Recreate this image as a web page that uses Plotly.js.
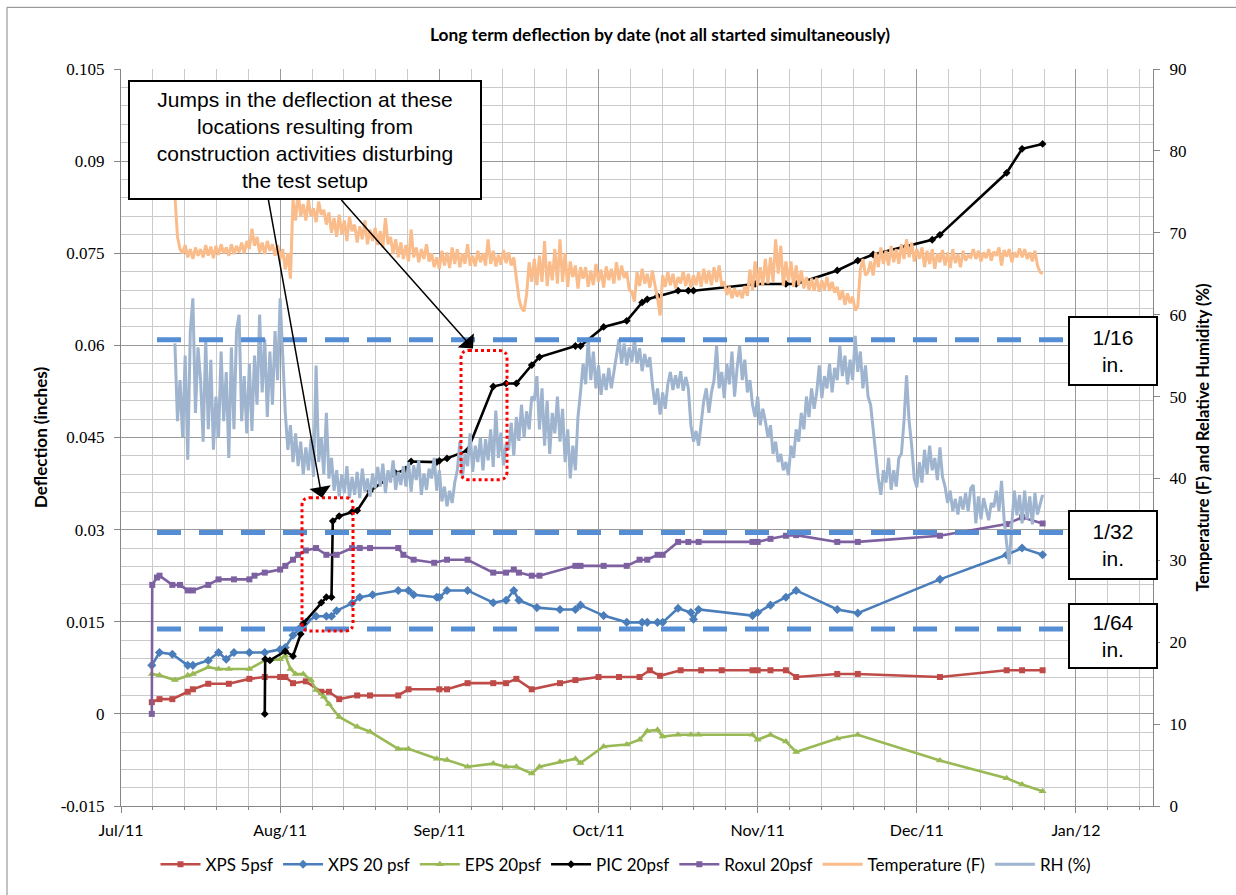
<!DOCTYPE html>
<html><head><meta charset="utf-8">
<script src="https://cdn.plot.ly/plotly-3.0.1.min.js"></script>
<style>html,body{margin:0;padding:0;background:#fff}#chart{width:1236px;height:895px}</style>
</head><body><div id="chart"></div>
<script>
// ---------------- data ----------------
const xps5Dates = ['2011-07-07','2011-07-08 12:00','2011-07-11','2011-07-14','2011-07-15','2011-07-18','2011-07-22','2011-07-26','2011-07-29','2011-08-01','2011-08-02','2011-08-03 12:00','2011-08-06','2011-08-09','2011-08-10 12:00','2011-08-12 12:00','2011-08-16','2011-08-18 12:00','2011-08-24','2011-08-26','2011-09-01','2011-09-02 12:00','2011-09-06 12:00','2011-09-11 12:00','2011-09-14','2011-09-16','2011-09-19','2011-09-24 12:00','2011-09-27 12:00','2011-10-02','2011-10-06','2011-10-10','2011-10-12','2011-10-14','2011-10-18','2011-10-22','2011-10-26','2011-11-01','2011-11-02','2011-11-04 12:00','2011-11-07 12:00','2011-11-09 12:00','2011-11-17 12:00','2011-11-21 12:00','2011-12-07 12:00','2011-12-20 12:00','2011-12-23 12:00','2011-12-27 12:00'];
const xps5Vals = [0.0019,0.0024,0.0024,0.0036,0.0040,0.0049,0.0049,0.0057,0.0060,0.0060,0.0060,0.0050,0.0053,0.0036,0.0036,0.0024,0.0030,0.0030,0.0030,0.0040,0.0040,0.0040,0.0050,0.0050,0.0050,0.0057,0.0040,0.0050,0.0055,0.0060,0.0060,0.0060,0.0071,0.0062,0.0071,0.0071,0.0071,0.0071,0.0071,0.0071,0.0071,0.0060,0.0065,0.0065,0.0060,0.0071,0.0071,0.0071];

const xps20Dates = ['2011-07-07','2011-07-08 12:00','2011-07-11','2011-07-14','2011-07-15','2011-07-18','2011-07-20','2011-07-21 12:00','2011-07-23','2011-07-26','2011-07-29','2011-08-01','2011-08-02','2011-08-03 12:00','2011-08-05','2011-08-06','2011-08-08','2011-08-10','2011-08-11','2011-08-12','2011-08-15','2011-08-16 12:00','2011-08-19','2011-08-24','2011-08-26','2011-08-27','2011-08-31 12:00','2011-09-01','2011-09-02 12:00','2011-09-06 12:00','2011-09-11 12:00','2011-09-14','2011-09-15 12:00','2011-09-16 12:00','2011-09-20','2011-09-24 12:00','2011-09-27 12:00','2011-09-28 12:00','2011-10-03','2011-10-07 12:00','2011-10-10 12:00','2011-10-11 12:00','2011-10-13 12:00','2011-10-14 12:00','2011-10-17 12:00','2011-10-20','2011-10-20 12:00','2011-10-21 12:00','2011-11-01','2011-11-02','2011-11-04 12:00','2011-11-07 12:00','2011-11-09 12:00','2011-11-17 12:00','2011-11-21 12:00','2011-12-07 12:00','2011-12-20 12:00','2011-12-23 12:00','2011-12-27 12:00'];
const xps20Vals = [0.0079,0.0100,0.0097,0.0079,0.0079,0.0087,0.0100,0.0089,0.0100,0.0100,0.0100,0.0105,0.0108,0.0128,0.0141,0.0149,0.0159,0.0159,0.0159,0.0168,0.0180,0.0190,0.0194,0.0201,0.0201,0.0194,0.0190,0.0190,0.0201,0.0201,0.0181,0.0185,0.0201,0.0185,0.0173,0.0170,0.0170,0.0177,0.0160,0.0149,0.0149,0.0149,0.0149,0.0149,0.0172,0.0165,0.0154,0.0170,0.0160,0.0165,0.0177,0.0190,0.0201,0.0170,0.0164,0.0219,0.0259,0.0270,0.0259];

const epsDates = ['2011-07-07','2011-07-08 12:00','2011-07-11 12:00','2011-07-14','2011-07-15','2011-07-18','2011-07-20','2011-07-22','2011-07-26','2011-07-29','2011-08-01','2011-08-02','2011-08-03','2011-08-04','2011-08-05 12:00','2011-08-07','2011-08-08','2011-08-09 12:00','2011-08-10 12:00','2011-08-12 12:00','2011-08-16','2011-08-18 12:00','2011-08-24','2011-08-26','2011-08-31 12:00','2011-09-02 12:00','2011-09-06 12:00','2011-09-11 12:00','2011-09-14','2011-09-16','2011-09-19','2011-09-20 12:00','2011-09-24 12:00','2011-09-27 12:00','2011-09-28 12:00','2011-10-03','2011-10-07 12:00','2011-10-10','2011-10-11 12:00','2011-10-13 12:00','2011-10-14 12:00','2011-10-17 12:00','2011-10-20','2011-10-21 12:00','2011-11-01','2011-11-02','2011-11-04 12:00','2011-11-07 12:00','2011-11-09 12:00','2011-11-17 12:00','2011-11-21 12:00','2011-12-07 12:00','2011-12-20 12:00','2011-12-23 12:00','2011-12-27 12:00'];
const epsVals = [0.0065,0.0063,0.0055,0.0063,0.0065,0.0076,0.0073,0.0073,0.0073,0.0087,0.0089,0.0095,0.0073,0.0065,0.0065,0.0055,0.0039,0.0028,0.0016,-0.0005,-0.0021,-0.0029,-0.0057,-0.0057,-0.0073,-0.0075,-0.0086,-0.0081,-0.0086,-0.0086,-0.0097,-0.0086,-0.0078,-0.0073,-0.0080,-0.0053,-0.0050,-0.0042,-0.0028,-0.0026,-0.0037,-0.0034,-0.0034,-0.0034,-0.0034,-0.0042,-0.0034,-0.0045,-0.0062,-0.0040,-0.0034,-0.0076,-0.0105,-0.0115,-0.0126];

const picDates = ['2011-07-29','2011-07-29 02:00','2011-07-30','2011-08-02','2011-08-03 12:00','2011-08-05','2011-08-05 12:00','2011-08-09','2011-08-10','2011-08-11','2011-08-11 06:00','2011-08-12 12:00','2011-08-15','2011-08-16','2011-08-18 12:00','2011-08-23 12:00','2011-08-25 12:00','2011-08-26 12:00','2011-08-31 12:00','2011-09-01','2011-09-02 12:00','2011-09-06 12:00','2011-09-11 12:00','2011-09-14','2011-09-16','2011-09-19','2011-09-20 12:00','2011-09-27 12:00','2011-09-28 12:00','2011-10-03','2011-10-07 12:00','2011-10-10 12:00','2011-10-11 12:00','2011-10-13 12:00','2011-10-17 12:00','2011-10-19 12:00','2011-10-20 12:00','2011-11-01 12:00','2011-11-07 12:00','2011-11-09 12:00','2011-11-17 12:00','2011-11-21 12:00','2011-11-24 12:00','2011-12-01','2011-12-06','2011-12-07 12:00','2011-12-20 12:00','2011-12-23 12:00','2011-12-27 12:00'];
const picVals = [0,0.0089,0.0087,0.0102,0.0094,0.0130,0.0147,0.0181,0.0190,0.0190,0.0314,0.0322,0.0329,0.0331,0.0363,0.0392,0.0398,0.0411,0.0410,0.0412,0.0416,0.0429,0.0533,0.0538,0.0538,0.0568,0.0581,0.0599,0.0599,0.0630,0.0640,0.0670,0.0675,0.0680,0.0689,0.0689,0.0689,0.0700,0.0700,0.0700,0.0722,0.0738,0.0748,0.0761,0.0772,0.0780,0.0881,0.0920,0.0928];

const roxulDates = ['2011-07-07','2011-07-07 02:00','2011-07-08','2011-07-08 12:00','2011-07-11','2011-07-12 12:00','2011-07-14','2011-07-15','2011-07-18','2011-07-20','2011-07-23','2011-07-26','2011-07-27','2011-07-29','2011-08-01','2011-08-02','2011-08-03 12:00','2011-08-04 12:00','2011-08-06','2011-08-08','2011-08-10','2011-08-12','2011-08-15','2011-08-16 12:00','2011-08-18 12:00','2011-08-24','2011-08-25','2011-08-27','2011-08-31','2011-09-02 12:00','2011-09-06 12:00','2011-09-11 12:00','2011-09-14','2011-09-15 12:00','2011-09-16 12:00','2011-09-19','2011-09-20 12:00','2011-09-27 12:00','2011-09-28 12:00','2011-10-03','2011-10-07 12:00','2011-10-10','2011-10-11 12:00','2011-10-13 12:00','2011-10-14 12:00','2011-10-17 12:00','2011-10-19 12:00','2011-10-21 12:00','2011-11-01','2011-11-02','2011-11-04 12:00','2011-11-07 12:00','2011-11-09 12:00','2011-11-17 12:00','2011-11-21 12:00','2011-12-07 12:00','2011-12-20 12:00','2011-12-23 12:00','2011-12-27 12:00'];
const roxulVals = [0,0.0210,0.0222,0.0225,0.0210,0.0210,0.0201,0.0201,0.0210,0.0219,0.0219,0.0219,0.0225,0.0230,0.0235,0.0241,0.0251,0.0259,0.0266,0.0270,0.0259,0.0259,0.0270,0.0270,0.0270,0.0270,0.0259,0.0251,0.0246,0.0251,0.0251,0.0230,0.0230,0.0235,0.0230,0.0225,0.0225,0.0241,0.0241,0.0241,0.0241,0.0251,0.0251,0.0259,0.0259,0.0280,0.0280,0.0280,0.0280,0.0280,0.0285,0.0290,0.0291,0.0280,0.0280,0.0290,0.0309,0.0320,0.0310];

// logger readings every 12 hours starting at envStart
const envStart = '2011-07-11T12:00:00';
const envStepHours = 12;
const temperatureVals = [
74.5,69.5,68,67.5,68.5,67,68,66.8,68.2,67.2,
68,67,68.5,67.2,68.3,66.9,68.4,67.3,68.6,67.5,
68.2,67.2,68.6,67.4,68.4,67.6,68.8,67.5,69.0,68.0,
70.5,68.4,69.5,67.6,68.8,67.4,69.0,67.8,68.6,67.2,
68.5,66.8,68.0,65.5,67.5,64.4,74.0,71.5,75.0,72.0,
73.5,71.5,74.0,72.0,73.0,71.3,73.8,72.2,72.8,71.0,
72.5,70.0,71.8,69.5,72.2,69.8,71.5,69.0,72.0,70.2,
71.0,68.8,70.8,69.2,71.5,68.6,70.4,69.0,70.6,68.5,
70.2,68.2,71.8,68.6,69.5,67.4,69.2,67.0,68.8,66.8,
68.5,66.5,70.4,67.0,68.2,66.4,68.0,66.8,68.6,66.5,
67.5,65.8,67.0,65.6,67.8,66.0,67.6,65.7,68.2,66.2,
68.0,65.8,67.5,66.2,68.6,66.0,67.2,65.9,67.8,66.4,
67.5,66.0,69.2,66.2,67.8,65.9,67.3,66.1,67.9,66.3,
67.6,66.0,67.0,64.5,62.0,60.8,60.4,62.5,66.4,64.0,
66.8,63.6,67.2,64.0,69.0,63.5,66.5,64.2,68.0,63.8,
69.2,64.0,67.5,63.4,66.5,64.6,66.0,63.2,65.8,64.4,
65.8,63.4,65.4,63.6,66.2,64.0,65.5,63.3,65.9,64.2,
65.6,63.8,66.4,64.2,66.0,64.5,65.2,63.0,62.8,61.6,
65.2,63.5,65.6,63.8,65.0,63.3,65.4,63.6,62.0,59.9,
64.8,63.4,65.2,63.6,65.0,63.2,64.6,63.8,65.3,63.5,
65.0,63.3,64.8,63.6,65.2,63.4,65.6,63.8,65.4,63.6,
65.8,64.0,66.0,63.5,64.0,62.4,63.4,62.0,63.2,62.2,
63.0,62.0,63.5,62.3,65.5,63.0,66.5,63.5,65.8,63.6,
66.8,63.8,67.0,64.0,69.2,65.0,68.4,63.5,66.5,64.0,
66.5,63.4,66.0,63.6,65.4,63.2,64.6,63.0,64.4,62.9,
64.5,62.8,64.2,63.0,64.6,62.9,64.0,62.7,63.4,61.8,
63.0,61.2,62.6,61.4,62.2,60.5,61.0,65.5,66.8,64.8,
65.2,66.5,64.8,67.6,65.8,68.2,66.2,67.8,66.0,68.4,
66.4,68.0,66.2,68.6,66.8,69.2,67.0,68.8,66.5,68.0,
66.8,68.2,65.8,67.8,66.2,68.0,65.6,67.5,66.4,67.9,
66.0,67.6,65.7,68.0,66.3,67.4,65.8,67.8,66.6,67.2,
67.0,68.0,66.8,67.8,66.5,67.6,66.9,68.0,66.6,67.7,
67.2,68.2,66.0,67.9,67.1,68.0,66.4,67.6,67.0,68.1,
67.0,68.0,66.8,67.6,66.5,67.8,66.0,65.2,65.0];
const rhVals = [
56.5,47.0,52.0,45.0,55.0,42.3,58.0,62.0,48.0,56.0,
52.0,44.5,57.0,46.0,54.5,43.5,50.0,45.0,55.5,47.0,
53.0,42.5,56.0,46.0,58.0,60.0,47.0,52.5,45.5,54.0,
45.8,55.0,49.0,60.0,50.5,57.0,47.5,55.5,49.0,58.0,
52.0,62.0,55.0,48.0,43.5,46.5,42.0,45.5,41.5,44.5,
40.5,43.8,41.0,44.8,40.2,53.8,42.0,45.0,40.5,48.0,
40.0,42.5,38.5,41.0,37.8,40.5,38.2,41.5,37.6,40.2,
38.0,40.8,37.6,41.2,38.4,40.0,37.8,40.6,38.8,41.4,
39.0,41.8,38.2,41.0,39.5,42.2,38.6,40.8,39.2,41.5,
39.0,42.0,38.4,41.6,39.8,42.2,38.0,40.6,38.6,41.2,
40.0,42.5,38.5,41.0,37.2,39.0,36.6,38.5,37.0,39.5,
41.0,44.5,40.2,43.0,41.5,45.5,40.8,44.0,42.0,45.0,
41.0,44.8,42.2,46.0,41.4,48.3,42.5,45.6,41.6,44.2,
43.5,46.8,42.8,47.5,44.6,49.0,45.0,48.2,46.0,50.0,
49.5,52.5,46.0,51.0,44.0,49.5,43.0,48.0,45.5,50.0,
44.5,48.5,42.0,46.0,40.0,44.0,41.0,47.5,50.5,54.0,
51.5,57.0,52.0,55.5,51.0,53.8,50.2,52.8,50.8,53.5,
51.0,53.0,54.5,57.0,54.0,56.5,53.8,56.0,54.2,57.0,
54.0,55.9,53.1,55.2,53.6,54.8,51.5,49.0,51.0,47.8,
50.5,48.5,51.5,53.0,50.8,52.6,51.0,53.1,50.7,52.4,
51.0,46.5,44.5,45.8,44.0,47.0,49.5,51.0,48.0,50.5,
52.0,56.2,51.0,53.0,49.8,54.0,51.5,55.5,50.0,53.5,
56.2,52.0,54.5,50.5,52.0,49.0,47.5,50.0,46.5,48.5,
47.0,45.0,46.5,43.0,44.5,42.0,43.0,41.0,42.0,40.4,
44.0,42.5,46.0,44.5,48.0,46.0,50.0,47.5,51.0,48.5,
50.5,53.8,49.8,52.5,51.0,54.0,50.5,53.5,52.0,56.2,
52.5,55.0,51.5,54.5,52.0,57.4,53.0,55.5,51.0,53.8,
50.0,49.0,46.0,43.0,40.0,38.0,41.0,39.5,42.5,38.6,
41.0,39.0,42.5,43.0,47.0,52.6,47.0,44.0,40.0,38.9,
42.0,39.5,43.5,40.5,44.0,41.0,42.5,39.8,43.8,40.2,
39.0,37.0,38.5,36.0,37.5,35.6,37.8,36.2,38.2,36.0,
38.8,39.2,34.5,37.8,35.0,37.6,36.2,34.9,37.0,36.5,
38.5,36.0,39.7,35.0,32.0,29.5,34.5,38.5,35.5,38.0,
34.5,38.5,35.0,37.8,34.4,38.2,35.6,37.0,38.0];

const leftTickVals = [-0.015,0,0.015,0.03,0.045,0.06,0.075,0.09,0.105];
const leftTickText = ['-0.015','0','0.015','0.03','0.045','0.06','0.075','0.09','0.105'];
// dashed reference lines as drawn in the picture
const refLineVals = [0.0609, 0.02955, 0.0138];
const refLabels = ['1/16<br>in.', '1/32<br>in.', '1/64<br>in.'];

// ---------------- helpers ----------------
function envDates(n){
  const t0 = new Date(envStart + 'Z').getTime();
  const out = [];
  for (let i=0;i<n;i++){ out.push(new Date(t0 + i*envStepHours*3600000).toISOString().slice(0,16).replace('T',' ')); }
  return out;
}
// plot area geometry (pixels) for paper-coordinate helpers
const L=121, R=1153, T=69, B=810;
const px = x => (x-L)/(R-L);
const py = y => (B-y)/(B-T);
function roundRect(x0,y0,x1,y1,r){
  const rx=r/(R-L), ry=r/(B-T);
  const X0=px(x0), X1=px(x1), Y0=py(y1), Y1=py(y0);
  return `M ${X0+rx},${Y1} L ${X1-rx},${Y1} Q ${X1},${Y1} ${X1},${Y1-ry} L ${X1},${Y0+ry} Q ${X1},${Y0} ${X1-rx},${Y0} L ${X0+rx},${Y0} Q ${X0},${Y0} ${X0},${Y0+ry} L ${X0},${Y1-ry} Q ${X0},${Y1} ${X0+rx},${Y1} Z`;
}

const lw = 2.6;
const traces = [
  {name:'XPS 5psf', x:xps5Dates, y:xps5Vals, mode:'lines+markers', line:{color:'#BE4B48', width:lw}, marker:{symbol:'square', size:6, color:'#BE4B48'}},
  {name:'XPS 20 psf', x:xps20Dates, y:xps20Vals, mode:'lines+markers', line:{color:'#4A7EBB', width:lw}, marker:{symbol:'diamond', size:7, color:'#4A7EBB'}},
  {name:'EPS 20psf', x:epsDates, y:epsVals, mode:'lines+markers', line:{color:'#98B954', width:lw}, marker:{symbol:'triangle-up', size:7, color:'#98B954'}},
  {name:'PIC 20psf', x:picDates, y:picVals, mode:'lines+markers', line:{color:'#000000', width:lw}, marker:{symbol:'diamond', size:6, color:'#000000'}},
  {name:'Roxul 20psf', x:roxulDates, y:roxulVals, mode:'lines+markers', line:{color:'#7D60A0', width:lw}, marker:{symbol:'square', size:6, color:'#7D60A0'}},
  {name:'Temperature (F)', x:envDates(temperatureVals.length), y:temperatureVals, yaxis:'y2', mode:'lines', line:{color:'#F9BC8A', width:3}},
  {name:'RH (%)', x:envDates(rhVals.length), y:rhVals, yaxis:'y2', mode:'lines', line:{color:'#9FB4CE', width:3}}
];

const shapes = [];
refLineVals.forEach(v => shapes.push({type:'line', xref:'paper', yref:'y', x0:px(157), x1:px(1063), y0:v, y1:v, line:{color:'#558ED5', width:5, dash:'24px,18px'}, layer:'above'}));
shapes.push({type:'path', xref:'paper', yref:'paper', path:roundRect(302,500,353,634,8), line:{color:'#FF0000', width:3, dash:'dot'}, layer:'above'});
shapes.push({type:'path', xref:'paper', yref:'paper', path:roundRect(461,352,507,482,8), line:{color:'#FF0000', width:3, dash:'dot'}, layer:'above'});
shapes.push({type:'rect', xref:'paper', yref:'paper', x0:px(7), x1:px(1240), y0:py(900), y1:py(7), line:{color:'#868686', width:1}, layer:'below'});

const annFont = {family:'Liberation Sans, Arial, sans-serif', size:21, color:'#000'};
const annotations = [
  {xref:'paper', yref:'paper', x:px(305), y:py(140), xanchor:'center', yanchor:'middle', showarrow:false,
   text:'Jumps in the deflection at these<br>locations resulting from<br>construction activities disturbing<br>the test setup',
   font:annFont, align:'center', bgcolor:'#fff', bordercolor:'#000', borderwidth:2, borderpad:0, width:350, height:116},
  {xref:'paper', yref:'paper', x:px(322), y:py(500), ax:268-322, ay:200-500, axref:'pixel', ayref:'pixel', text:'', showarrow:true, arrowhead:1, arrowsize:2.4, arrowwidth:1.5, arrowcolor:'#000'},
  {xref:'paper', yref:'paper', x:px(473), y:py(350), ax:340-473, ay:200-350, axref:'pixel', ayref:'pixel', text:'', showarrow:true, arrowhead:1, arrowsize:2.4, arrowwidth:1.5, arrowcolor:'#000'}
];
const refBoxCenters = [353, 548, 639];
refLabels.forEach((t,i) => annotations.push({xref:'paper', yref:'paper', x:px(1113), y:py(refBoxCenters[i]), xanchor:'center', yanchor:'middle', showarrow:false, text:t, font:annFont, align:'center', bgcolor:'#fff', bordercolor:'#000', borderwidth:2, borderpad:0, width:86, height:i===2?62:66}));

const gridMajor = '#999999', gridMinor = '#CACACA', axisCol = '#868686';
const DAY = 86400000;
const layout = {
  width:1236, height:895,
  margin:{l:L, r:1236-R, t:T, b:895-B, pad:0},
  paper_bgcolor:'#fff', plot_bgcolor:'#fff',
  showlegend:true,
  title:{text:'<b>Long term deflection by date (not all started simultaneously)</b>', font:{family:'Lato', size:17.3, color:'#000'}, x:660/1236, xanchor:'center', y:1-35/895, yanchor:'middle'},
  xaxis:{type:'date', range:['2011-07-01','2012-01-18'], tick0:'2011-07-01', dtick:31*DAY, tickformat:'%b/%y',
    showgrid:true, gridcolor:gridMajor, gridwidth:1,
    minor:{tick0:'2011-07-01', dtick:6.2*DAY, showgrid:true, gridcolor:gridMinor, ticks:'outside', ticklen:3, tickcolor:axisCol},
    showline:true, linecolor:axisCol, linewidth:1, ticks:'outside', ticklen:6, tickcolor:axisCol, zeroline:false,
    tickfont:{family:'Lato', size:16, color:'#000'}, ticklabelstandoff:4},
  yaxis:{range:[-0.015,0.105], tickmode:'array', tickvals:leftTickVals, ticktext:leftTickText,
    showgrid:true, gridcolor:gridMajor, gridwidth:1,
    minor:{tickmode:'linear', tick0:0, dtick:0.003, showgrid:true, gridcolor:gridMinor},
    showline:true, linecolor:axisCol, linewidth:1, ticks:'outside', ticklen:6, tickcolor:axisCol, zeroline:false,
    tickfont:{family:'Liberation Serif', size:17, color:'#000'}, ticklabelstandoff:6,
    title:{text:'<b>Deflection (inches)</b>', font:{family:'Lato', size:17, color:'#000'}, standoff:8}},
  yaxis2:{overlaying:'y', side:'right', range:[0,90], tick0:0, dtick:10, showgrid:false,
    showline:true, linecolor:axisCol, linewidth:1, ticks:'outside', ticklen:6, tickcolor:axisCol, zeroline:false,
    tickfont:{family:'Liberation Serif', size:17, color:'#000'}, ticklabelstandoff:6,
    title:{text:'<b>Temperature (F) and Relative Humidity (%)</b>', font:{family:'Lato', size:16.5, color:'#000'}, standoff:12}},
  legend:{orientation:'h', x:px(626), xanchor:'center', y:py(869), yanchor:'middle', font:{family:'Lato', size:17, color:'#000'}, bgcolor:'rgba(0,0,0,0)', itemwidth:40, traceorder:'normal'},
  shapes:shapes, annotations:annotations
};
Plotly.newPlot('chart', traces, layout, {displayModeBar:false, staticPlot:true});
</script>
</body></html>
